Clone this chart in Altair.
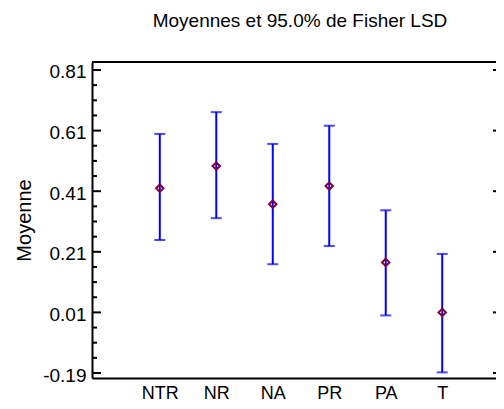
import altair as alt
import pandas as pd

# ---- data ----
categories = ["NTR", "NR", "NA", "PR", "PA", "T"]
means = [0.420, 0.493, 0.367, 0.427, 0.175, 0.010]
lower = [0.249, 0.321, 0.169, 0.229, 0.000, -0.188]
upper = [0.599, 0.671, 0.566, 0.626, 0.347, 0.203]
major_ticks = [-0.19, 0.01, 0.21, 0.41, 0.61, 0.81]
minor_ticks = [-0.14, -0.09, -0.04, 0.06, 0.11, 0.16, 0.26, 0.31, 0.36,
               0.46, 0.51, 0.56, 0.66, 0.71, 0.76]

W, H = 404, 316
Y_DOMAIN = [-0.2065, 0.8364]
X_DOMAIN = [-1.2, 5.952]
FONT = "Liberation Sans"
BLUE = "#0000ff"
MARKER = "#80003c"

df = pd.DataFrame({
    "idx": list(range(len(categories))),
    "cat": categories,
    "mean": means,
    "lower": lower,
    "upper": upper,
})
majors = pd.DataFrame({"v": major_ticks})
minors = pd.DataFrame({"v": minor_ticks})

label_expr = "[" + ",".join(f"'{c}'" for c in categories) + "][datum.value]"

xs = alt.Scale(domain=X_DOMAIN, nice=False, zero=False)
ys = alt.Scale(domain=Y_DOMAIN, nice=False, zero=False)

x_axis = alt.Axis(
    values=list(range(len(categories))), labelExpr=label_expr,
    ticks=False, tickSize=0, grid=False,
    domain=True, domainColor="black", domainWidth=2,
    labelFont=FONT, labelFontSize=18, labelColor="black",
    labelPadding=6, labelFlush=False, title=None,
)
y_axis = alt.Axis(
    values=major_ticks,
    labelExpr="replace(format(datum.value, '.2f'), '\u2212', '-')",
    ticks=False, tickSize=0, grid=False,
    domain=True, domainColor="black", domainWidth=2,
    labelFont=FONT, labelFontSize=19, labelColor="black",
    labelPadding=6, labelOffset=2, labelFlush=False,
    title="Moyenne", titleFont=FONT, titleFontSize=20,
    titleFontWeight="normal", titleColor="black",
    titleAngle=270, titleAlign="center", titleBaseline="middle",
    titleX=-68, titleY=H / 2,
)

base = alt.Chart(df)

bars = base.mark_rule(color=BLUE, strokeWidth=2).encode(
    x=alt.X("idx:Q", scale=xs, axis=x_axis),
    y=alt.Y("lower:Q", scale=ys, axis=y_axis),
    y2="upper:Q",
)
cap_lo = base.mark_tick(color=BLUE, thickness=2, size=11, orient="horizontal").encode(
    x=alt.X("idx:Q", scale=xs, axis=x_axis),
    y=alt.Y("lower:Q", scale=ys, axis=y_axis))
cap_hi = base.mark_tick(color=BLUE, thickness=2, size=11, orient="horizontal").encode(
    x=alt.X("idx:Q", scale=xs, axis=x_axis),
    y=alt.Y("upper:Q", scale=ys, axis=y_axis))
points = base.mark_point(shape="diamond", filled=False, color=MARKER,
                         strokeWidth=2, size=55, opacity=1).encode(
    x=alt.X("idx:Q", scale=xs, axis=x_axis),
    y=alt.Y("mean:Q", scale=ys, axis=y_axis))

minor_left = alt.Chart(minors).mark_rule(color="black", strokeWidth=2).encode(
    y=alt.Y("v:Q", scale=ys, axis=y_axis), x=alt.value(0), x2=alt.value(5))
major_left = alt.Chart(majors).mark_rule(color="black", strokeWidth=2).encode(
    y=alt.Y("v:Q", scale=ys, axis=y_axis), x=alt.value(0), x2=alt.value(9))
major_right = alt.Chart(majors).mark_rule(color="black", strokeWidth=2).encode(
    y=alt.Y("v:Q", scale=ys, axis=y_axis), x=alt.value(W - 3), x2=alt.value(W))
top_line = alt.Chart(majors.head(1)).mark_rule(color="black", strokeWidth=2).encode(
    y=alt.value(0), x=alt.value(0), x2=alt.value(W))

chart = alt.layer(
    bars, minor_left, major_left, major_right, top_line, cap_lo, cap_hi, points
).properties(
    width=W, height=H,
    title=alt.TitleParams(
        "Moyennes et 95.0% de Fisher LSD", font=FONT, fontSize=19,
        fontWeight="normal", color="black", anchor="middle", offset=30, dx=6,
    ),
    autosize=alt.AutoSizeParams(type="none"),
    padding={"left": 84, "top": 54, "right": 0, "bottom": 23},
).configure_view(stroke=None).configure(background="white")

chart.save("out.html", embed_options={"renderer": "svg", "actions": False})
